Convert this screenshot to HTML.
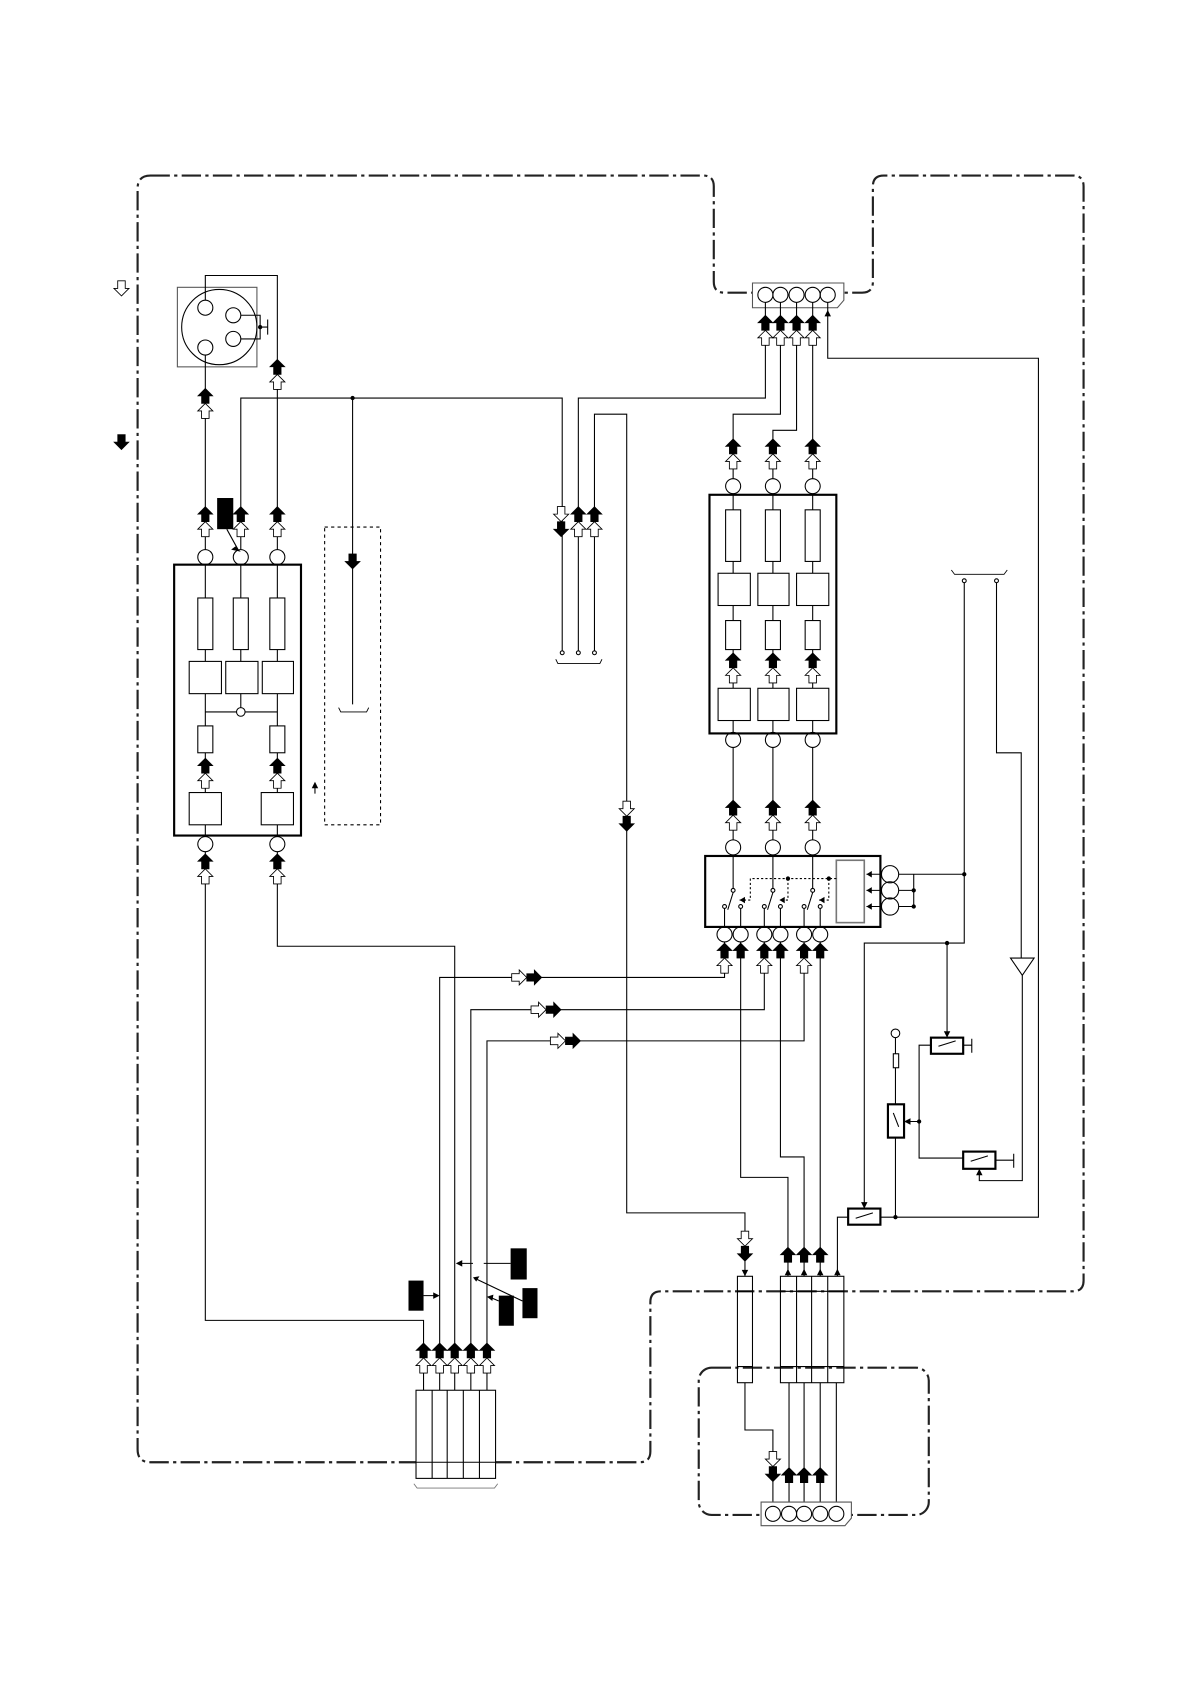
<!DOCTYPE html>
<html><head><meta charset="utf-8"><style>html,body{margin:0;padding:0;background:#fff}svg{display:block}</style></head>
<body>
<svg width="1190" height="1684" viewBox="0 0 1107 1566" xmlns="http://www.w3.org/2000/svg">
<defs>
<path id="FU" d="M0,-7 L7,0 L3.5,0 L3.5,7 L-3.5,7 L-3.5,0 L-7,0Z" fill="#000" stroke="#000" stroke-width="0.6"/>
<path id="HU" d="M0,-7 L7,0 L3.5,0 L3.5,7 L-3.5,7 L-3.5,0 L-7,0Z" fill="#fff" stroke="#000" stroke-width="0.8"/>
<path id="FD" d="M0,7 L7,0 L3.5,0 L3.5,-7 L-3.5,-7 L-3.5,0 L-7,0Z" fill="#000" stroke="#000" stroke-width="0.6"/>
<path id="HD" d="M0,7 L7,0 L3.5,0 L3.5,-7 L-3.5,-7 L-3.5,0 L-7,0Z" fill="#fff" stroke="#000" stroke-width="0.8"/>
<path id="FR" d="M7,0 L0,7 L0,3.5 L-7,3.5 L-7,-3.5 L0,-3.5 L0,-7Z" fill="#000" stroke="#000" stroke-width="0.6"/>
<path id="HR" d="M7,0 L0,7 L0,3.5 L-7,3.5 L-7,-3.5 L0,-3.5 L0,-7Z" fill="#fff" stroke="#000" stroke-width="0.8"/>
</defs>

<!-- borders -->
<g fill="none" stroke="#222" stroke-width="2" stroke-dasharray="18,4,3,4">
<path d="M140,163 H654 Q664,163 664,173 V262 Q664,272 674,272 H802 Q812,272 812,262 V173 Q812,163 822,163 H998 Q1008,163 1008,173 V1191 Q1008,1201 998,1201 H615 Q605,1201 605,1211 V1350 Q605,1360 595,1360 H140 Q128,1360 128,1348 V175 Q128,163 140,163Z"/>
<rect x="650" y="1272" width="214" height="137" rx="12"/>
</g>

<g fill="none" stroke="#000" stroke-width="1">
<!-- top connector -->
<path d="M700,263 H785 V279 L779,286 H700Z" fill="#fff" stroke="#555"/>
<circle cx="712" cy="274" r="7"/><circle cx="726" cy="274" r="7"/><circle cx="741" cy="274" r="7"/><circle cx="756" cy="274" r="7"/><circle cx="770" cy="274" r="7"/>
<!-- left round connector -->
<rect x="165" y="267" width="74" height="74" stroke="#555"/>
<circle cx="204" cy="304" r="35"/>
<circle cx="191" cy="286" r="7"/><circle cx="217" cy="293" r="7"/><circle cx="217" cy="315" r="7"/><circle cx="191" cy="323" r="7"/>
<path d="M224,293 H242 V315 H224 M242,304 H249 M249,297 V311"/>
<path d="M191,279 V256 H258 V511"/>
<path d="M191,330 V511"/>
<path d="M224,511 V370 H523 V605 M328,370 V655"/>
<path d="M538,605 V370 H712 V281 M553,605 V385 H583 V1128 H693 V1187"/>
<path d="M726,281 V385 H682 V445 M741,281 V400 H719 V445 M756,281 V445"/>
<path d="M770,281 V333 H966 V1132 H819"/>

<!-- left module -->
<rect x="162" y="525" width="118" height="252" stroke-width="2"/>
<circle cx="191" cy="518" r="7"/><circle cx="224" cy="518" r="7"/><circle cx="258" cy="518" r="7"/>
<circle cx="191" cy="785" r="7"/><circle cx="258" cy="785" r="7"/>
<rect x="184" y="556" width="14" height="48"/><rect x="217" y="556" width="14" height="48"/><rect x="251" y="556" width="14" height="48"/>
<rect x="176" y="615" width="30" height="30"/><rect x="210" y="615" width="30" height="30"/><rect x="244" y="615" width="29" height="30"/>
<rect x="184" y="675" width="14" height="25"/><rect x="251" y="675" width="14" height="25"/>
<rect x="176" y="737" width="30" height="30"/><rect x="243" y="737" width="30" height="30"/>
<path d="M191,525 V556 M191,604 V615 M191,645 V675 M191,700 V737 M191,767 V778 M224,525 V556 M224,604 V615 M224,645 V658 M258,525 V556 M258,604 V615 M258,645 V675 M258,700 V737 M258,767 V778 M191,662 H220 M228,662 H258"/>
<circle cx="224" cy="662" r="4"/>
<path d="M293,738 V730"/>
<!-- left module bottom lines -->
<path d="M191,792 V1228 H394 V1256 M258,792 V880 H423 V1256"/>
<!-- dashed rect -->
<rect x="302" y="490" width="52" height="277" stroke-dasharray="3,3"/>
<path d="M315,658 L317,662 H341 L343,658" stroke-width="0.8"/>
<!-- middle small terminals -->
<circle cx="523" cy="607" r="1.8"/><circle cx="538" cy="607" r="1.8"/><circle cx="553" cy="607" r="1.8"/>
<path d="M517,613 L519,617 H558 L560,613" stroke-width="0.8"/>

<!-- right module -->
<rect x="660" y="460" width="118" height="222" stroke-width="2"/>
<circle cx="682" cy="452" r="7"/><circle cx="719" cy="452" r="7"/><circle cx="756" cy="452" r="7"/>
<circle cx="682" cy="688" r="7"/><circle cx="719" cy="688" r="7"/><circle cx="756" cy="688" r="7"/>
<rect x="675" y="474" width="14" height="48"/><rect x="712" y="474" width="14" height="48"/><rect x="749" y="474" width="14" height="48"/>
<rect x="668" y="533" width="30" height="30"/><rect x="705" y="533" width="29" height="30"/><rect x="741" y="533" width="30" height="30"/>
<rect x="675" y="577" width="14" height="27"/><rect x="712" y="577" width="14" height="27"/><rect x="749" y="577" width="14" height="27"/>
<rect x="668" y="640" width="30" height="30"/><rect x="705" y="640" width="29" height="30"/><rect x="741" y="640" width="30" height="30"/>
<path d="M682,459 V474 M682,522 V533 M682,563 V577 M682,604 V640 M682,670 V681 M719,459 V474 M719,522 V533 M719,563 V577 M719,604 V640 M719,670 V681 M756,459 V474 M756,522 V533 M756,563 V577 M756,604 V640 M756,670 V681"/>
<path d="M682,695 V781 M719,695 V781 M756,695 V781"/>
<circle cx="682" cy="788" r="7"/><circle cx="719" cy="788" r="7"/><circle cx="756" cy="788" r="7"/>

<!-- switch box -->
<rect x="656" y="796" width="163" height="66" stroke-width="2"/>
<rect x="778" y="800" width="26" height="58" stroke="#777" stroke-width="1.5"/>
<path d="M682,796 V826 M719,796 V826 M756,796 V826"/>
<circle cx="682" cy="828" r="1.8"/><circle cx="719" cy="828" r="1.8"/><circle cx="756" cy="828" r="1.8"/>
<circle cx="674" cy="843" r="1.8"/><circle cx="689" cy="843" r="1.8"/><circle cx="711" cy="843" r="1.8"/><circle cx="726" cy="843" r="1.8"/><circle cx="748" cy="843" r="1.8"/><circle cx="763" cy="843" r="1.8"/>
<path d="M682,830 L677,846 M719,830 L714,846 M756,830 L751,846"/>
<path d="M674,845 V862 M689,845 V862 M711,845 V862 M726,845 V862 M748,845 V862 M763,845 V862"/>
<path d="M688,837 H698 V817 H778 M733,817 V837 H725 M771,817 V837 H762" stroke-dasharray="2,2"/>
<circle cx="674" cy="869" r="7"/><circle cx="689" cy="869" r="7"/><circle cx="711" cy="869" r="7"/><circle cx="726" cy="869" r="7"/><circle cx="748" cy="869" r="7"/><circle cx="763" cy="869" r="7"/>
<circle cx="828" cy="813" r="8"/><circle cx="828" cy="828" r="8"/><circle cx="828" cy="843" r="8"/>
<path d="M820,813 H806 M820,828 H806 M820,843 H806"/>
<path d="M836,813 H897 M836,828 H850 M836,843 H850 M850,813 V843"/>

<!-- lines from switch box bottom -->
<path d="M674,876 V909 H409 V1256 M711,876 V939 H438 V1256 M748,876 V968 H453 V1256"/>
<path d="M689,876 V1095 H733 V1187 M726,876 V1076 H748 V1187 M763,876 V1187"/>

<!-- right side -->
<path d="M885,530 L888,534 H934 L937,530" stroke-width="0.8"/>
<circle cx="897" cy="540" r="1.8"/><circle cx="927" cy="540" r="1.8"/>
<path d="M897,542 V877 H804 V1123 M881,877 V965"/>
<path d="M927,542 V700 H950 V891"/>
<path d="M940,891 H962 L951,907Z"/>
<path d="M951,907 V1098 H911 V1089"/>
<rect x="866" y="965" width="30" height="15" stroke-width="2"/>
<path d="M873,973 L889,968 M896,972 H904 M904,966 V979 M866,972 H855 V1077 H896"/>
<circle cx="833" cy="961" r="4"/>
<rect x="831" y="980" width="5" height="13"/>
<path d="M833,965 V980 M833,993 V1027 M833,1058 V1132"/>
<rect x="826" y="1027" width="15" height="31" stroke-width="2"/>
<path d="M831,1035 L836,1048 M855,1043 H843"/>
<rect x="896" y="1071" width="30" height="16" stroke-width="2"/>
<path d="M903,1080 L919,1075 M926,1079 H943 M943,1073 V1086"/>
<rect x="789" y="1124" width="30" height="15" stroke-width="2"/>
<path d="M796,1133 L812,1128 M779,1187 V1132 H789"/>

<!-- bottom right blocks -->
<rect x="686" y="1187" width="14" height="99"/>
<rect x="726" y="1187" width="59" height="99"/>
<path d="M741,1187 V1286 M755,1187 V1286 M770,1187 V1286 M686,1201 H700 M726,1201 H785 M686,1271 H700 M726,1271 H785"/>
<path d="M693,1286 V1330 H719 V1400 M734,1286 V1400 M748,1286 V1400 M763,1286 V1400 M778,1286 V1400"/>
<path d="M708,1397 H792 V1412 L786,1419 H708Z" fill="#fff" stroke="#555"/>
<circle cx="719" cy="1408" r="7"/><circle cx="734" cy="1408" r="7"/><circle cx="748" cy="1408" r="7"/><circle cx="763" cy="1408" r="7"/><circle cx="778" cy="1408" r="7"/>

<!-- bottom left connector -->
<rect x="387" y="1293" width="74" height="82" fill="#fff"/>
<path d="M402,1293 V1375 M416,1293 V1375 M431,1293 V1375 M446,1293 V1375 M387,1360 H461 M394,1277 V1293 M409,1277 V1293 M423,1277 V1293 M438,1277 V1293 M453,1277 V1293"/>
<path d="M385,1380 L388,1384 H460 L463,1380" stroke="#777" stroke-width="0.8"/>
<path d="M475,1175 H450 M440,1175 H427" />
<path d="M486,1210 L444,1190 M464,1210 L457,1207 M394,1205 H406"/>
</g>

<!-- small arrowheads -->
<g fill="#000">
<path d="M224,513 L219,508 L215,511Z"/>
<path d="M293,727 L290,733 L296,733Z"/>
<path d="M770,288 L767,294 L773,294Z"/>
<path d="M424,1175 L430,1172 L430,1178Z"/>
<path d="M409,1205 L403,1202 L403,1208Z"/>
<path d="M440,1188 L446,1187 L443,1192Z"/>
<path d="M453,1206 L459,1204 L458,1210Z"/>
<path d="M804,1124 L801,1118 L807,1118Z"/>
<path d="M881,965 L878,959 L884,959Z"/>
<path d="M911,1087 L908,1093 L914,1093Z"/>
<path d="M841,1043 L847,1040 L847,1046Z"/>
<path d="M693,1187 L690,1181 L696,1181Z"/>
<path d="M733,1180 L730,1186 L736,1186Z"/><path d="M748,1180 L745,1186 L751,1186Z"/><path d="M763,1180 L760,1186 L766,1186Z"/><path d="M779,1180 L776,1186 L782,1186Z"/>
<path d="M806,813 L811,810 L811,816Z"/><path d="M806,828 L811,825 L811,831Z"/><path d="M806,843 L811,840 L811,846Z"/>
<path d="M688,837 L693,834 L693,840Z"/><path d="M725,837 L730,834 L730,840Z"/><path d="M762,837 L767,834 L767,840Z"/>
<circle cx="328" cy="370" r="2"/><circle cx="733" cy="817" r="2"/><circle cx="771" cy="817" r="2"/>
<circle cx="881" cy="877" r="2"/><circle cx="897" cy="813" r="2"/><circle cx="850" cy="828" r="2"/><circle cx="850" cy="843" r="2"/>
<circle cx="855" cy="1043" r="2"/><circle cx="833" cy="1132" r="2"/><circle cx="242" cy="304" r="2"/>
<!-- black blocks -->
<rect x="202" y="463" width="15" height="29"/>
<rect x="475" y="1161" width="15" height="29"/>
<rect x="380" y="1191" width="14" height="28"/>
<rect x="464" y="1205" width="14" height="28"/>
<rect x="486" y="1198" width="14" height="28"/>
</g>
<path d="M211,492 L222,512" stroke="#000" fill="none"/>

<!-- block arrows -->
<use href="#HD" x="113" y="268"/><use href="#FD" x="113" y="411"/>
<use href="#FU" x="191" y="368"/><use href="#HU" x="191" y="382"/>
<use href="#FU" x="258" y="341"/><use href="#HU" x="258" y="355"/>
<use href="#FU" x="191" y="478"/><use href="#HU" x="191" y="492"/>
<use href="#FU" x="224" y="478"/><use href="#HU" x="224" y="492"/>
<use href="#FU" x="258" y="478"/><use href="#HU" x="258" y="492"/>
<use href="#FU" x="191" y="712"/><use href="#HU" x="191" y="726"/>
<use href="#FU" x="258" y="712"/><use href="#HU" x="258" y="726"/>
<use href="#FU" x="191" y="801"/><use href="#HU" x="191" y="815"/>
<use href="#FU" x="258" y="801"/><use href="#HU" x="258" y="815"/>
<use href="#FD" x="328" y="522"/>
<use href="#HD" x="522" y="478"/><use href="#FD" x="522" y="492"/>
<use href="#FU" x="538" y="478"/><use href="#HU" x="538" y="492"/>
<use href="#FU" x="553" y="478"/><use href="#HU" x="553" y="492"/>
<use href="#HD" x="583" y="752"/><use href="#FD" x="583" y="766"/>
<use href="#FU" x="712" y="300"/><use href="#HU" x="712" y="314"/>
<use href="#FU" x="726" y="300"/><use href="#HU" x="726" y="314"/>
<use href="#FU" x="741" y="300"/><use href="#HU" x="741" y="314"/>
<use href="#FU" x="756" y="300"/><use href="#HU" x="756" y="314"/>
<use href="#FU" x="682" y="415"/><use href="#HU" x="682" y="429"/>
<use href="#FU" x="719" y="415"/><use href="#HU" x="719" y="429"/>
<use href="#FU" x="756" y="415"/><use href="#HU" x="756" y="429"/>
<use href="#FU" x="682" y="614"/><use href="#HU" x="682" y="628"/>
<use href="#FU" x="719" y="614"/><use href="#HU" x="719" y="628"/>
<use href="#FU" x="756" y="614"/><use href="#HU" x="756" y="628"/>
<use href="#FU" x="682" y="751"/><use href="#HU" x="682" y="765"/>
<use href="#FU" x="719" y="751"/><use href="#HU" x="719" y="765"/>
<use href="#FU" x="756" y="751"/><use href="#HU" x="756" y="765"/>
<use href="#FU" x="674" y="884"/><use href="#HU" x="674" y="898"/>
<use href="#FU" x="689" y="884"/>
<use href="#FU" x="711" y="884"/><use href="#HU" x="711" y="898"/>
<use href="#FU" x="726" y="884"/>
<use href="#FU" x="748" y="884"/><use href="#HU" x="748" y="898"/>
<use href="#FU" x="763" y="884"/>
<use href="#HR" x="483" y="909"/><use href="#FR" x="497" y="909"/>
<use href="#HR" x="501" y="939"/><use href="#FR" x="515" y="939"/>
<use href="#HR" x="519" y="968"/><use href="#FR" x="533" y="968"/>
<use href="#HD" x="693" y="1152"/><use href="#FD" x="693" y="1166"/>
<use href="#FU" x="733" y="1167"/><use href="#FU" x="748" y="1167"/><use href="#FU" x="763" y="1167"/>
<use href="#HD" x="719" y="1357"/><use href="#FD" x="719" y="1371"/>
<use href="#FU" x="734" y="1372"/><use href="#FU" x="748" y="1372"/><use href="#FU" x="763" y="1372"/>
<use href="#FU" x="394" y="1256"/><use href="#HU" x="394" y="1270"/>
<use href="#FU" x="409" y="1256"/><use href="#HU" x="409" y="1270"/>
<use href="#FU" x="423" y="1256"/><use href="#HU" x="423" y="1270"/>
<use href="#FU" x="438" y="1256"/><use href="#HU" x="438" y="1270"/>
<use href="#FU" x="453" y="1256"/><use href="#HU" x="453" y="1270"/>
</svg>
</body></html>
